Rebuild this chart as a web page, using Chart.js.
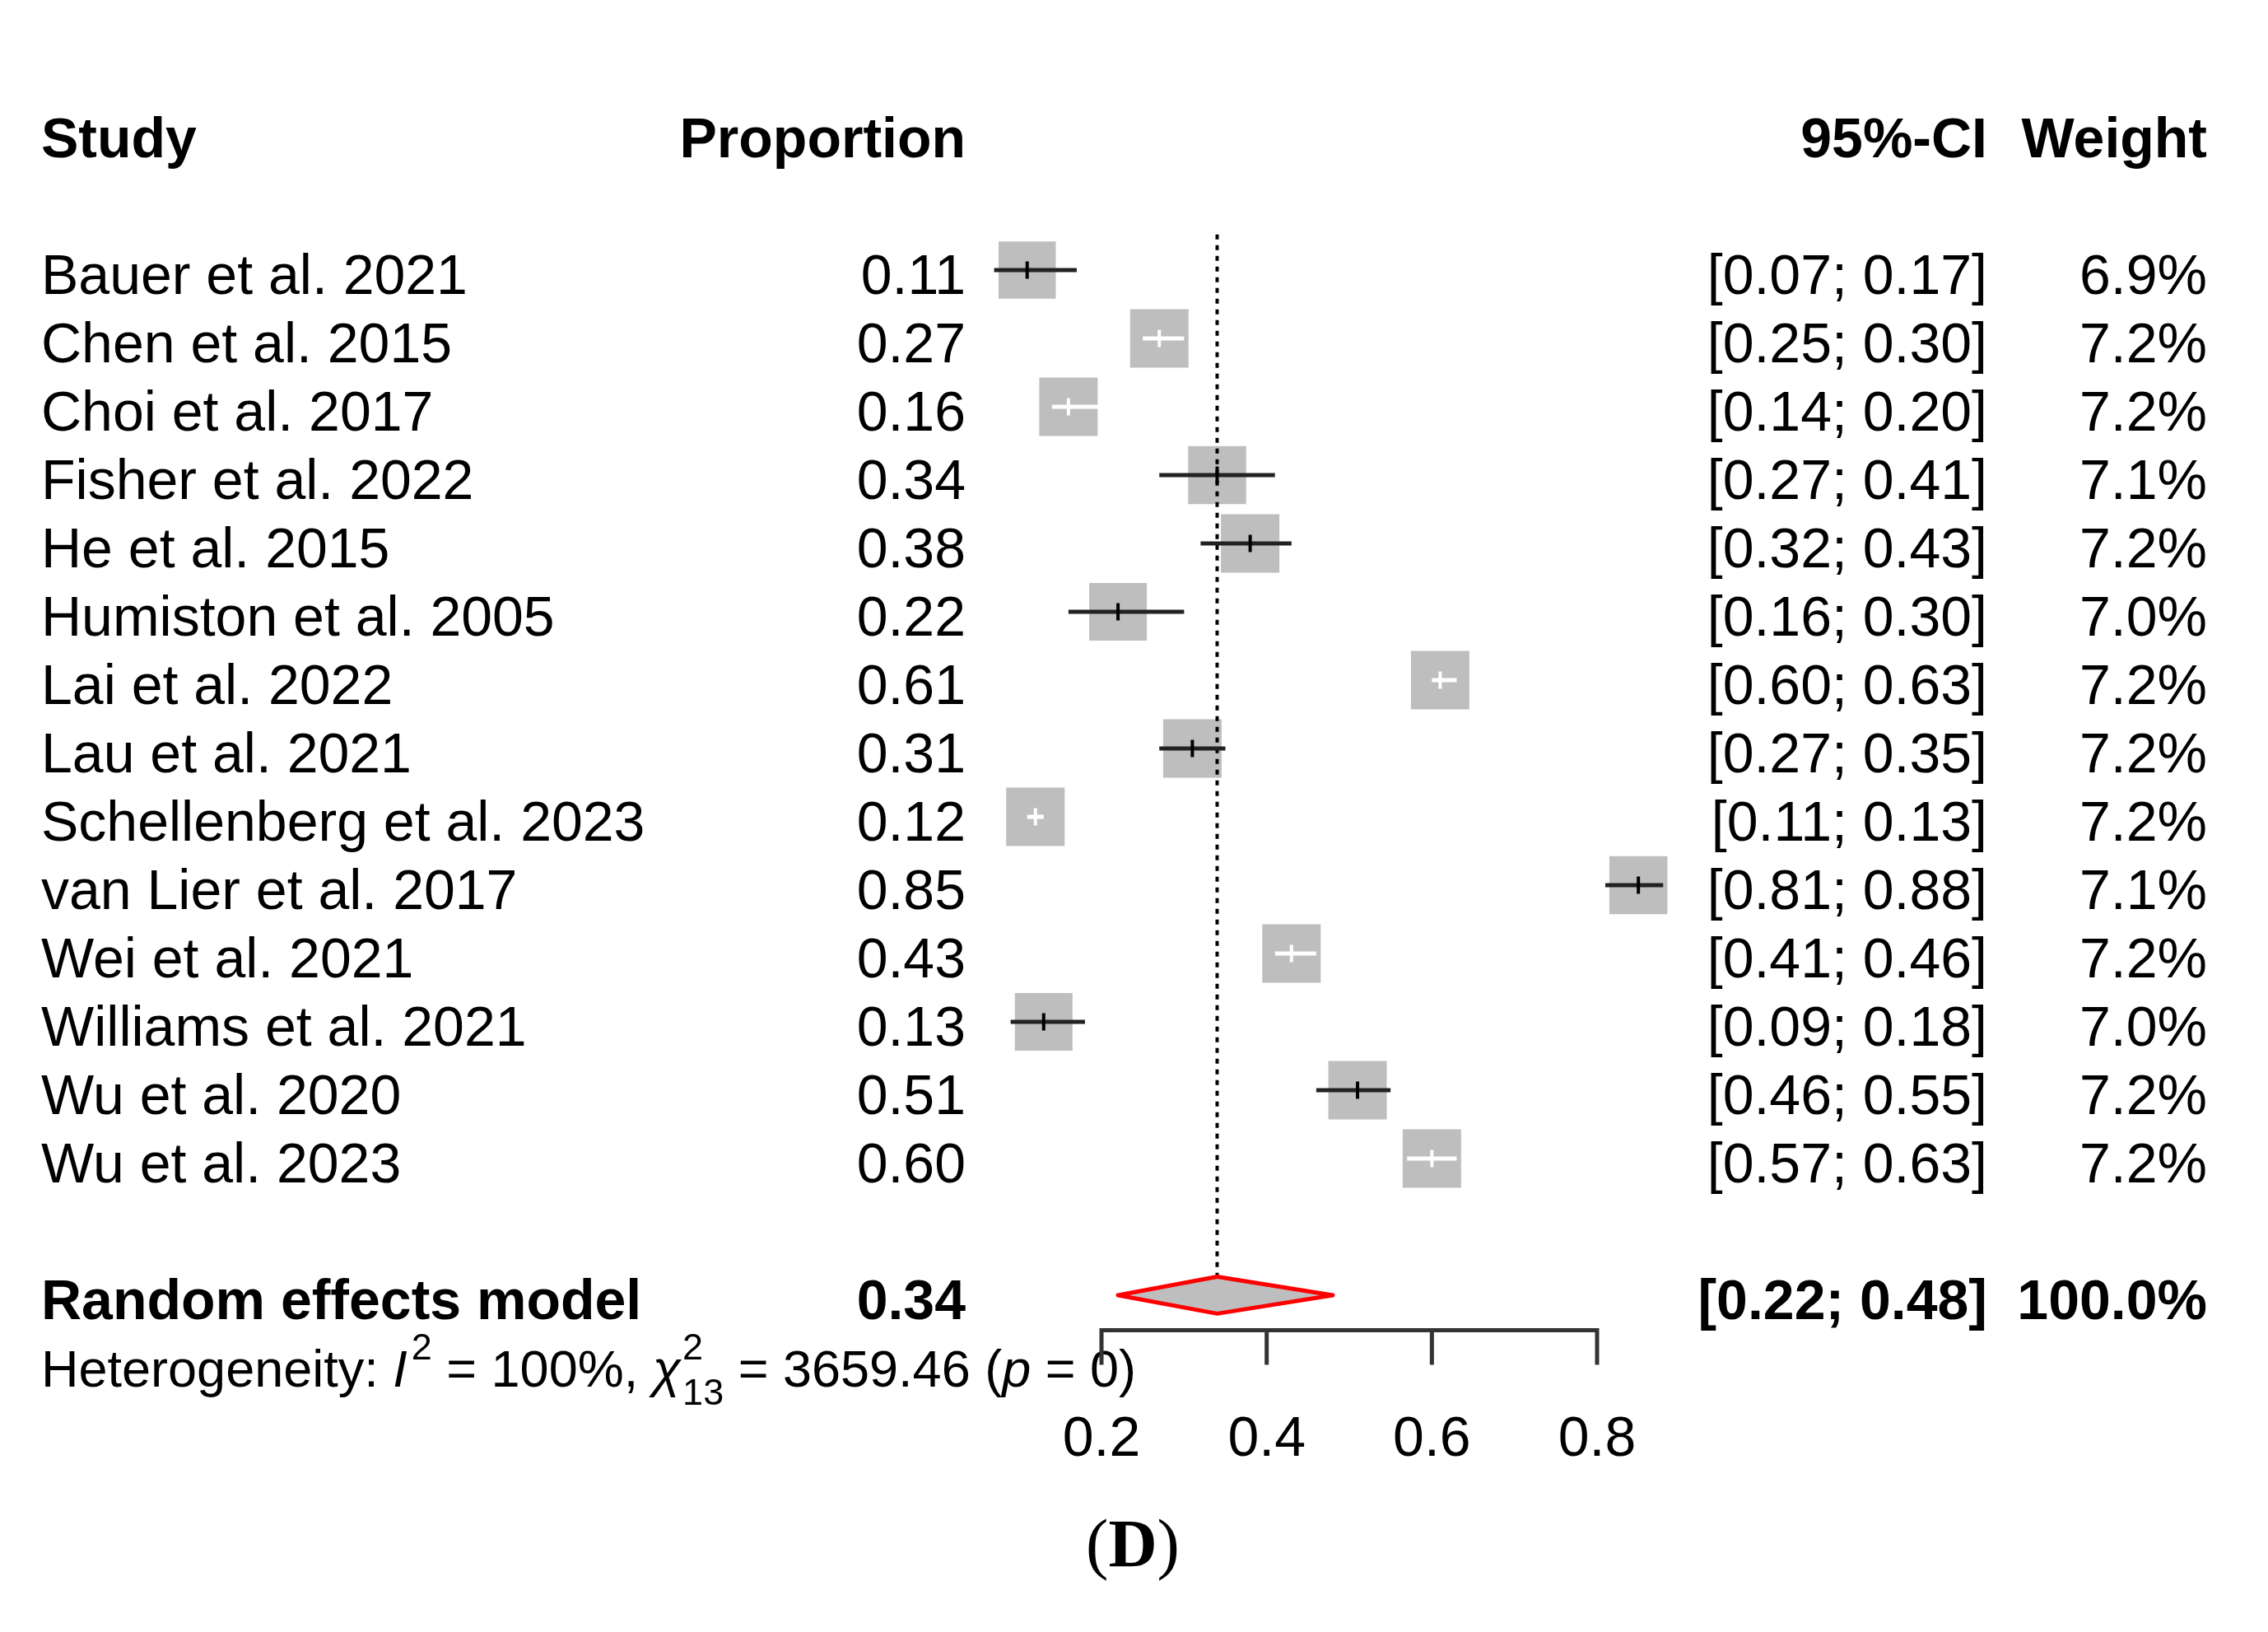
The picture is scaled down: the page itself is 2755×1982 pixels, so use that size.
<!DOCTYPE html>
<html><head><meta charset="utf-8">
<script src="https://cdn.jsdelivr.net/npm/chart.js@4/dist/chart.umd.min.js"></script>
<style>html,body{margin:0;padding:0;background:#fff;overflow:hidden}canvas{display:block}</style>
</head><body>
<canvas id="c" width="2755" height="1982" style="width:2755px;height:1982px"></canvas>
<script>
// ---------- data ----------
const studies = ["Bauer et al. 2021","Chen et al. 2015","Choi et al. 2017","Fisher et al. 2022","He et al. 2015","Humiston et al. 2005","Lai et al. 2022","Lau et al. 2021","Schellenberg et al. 2023","van Lier et al. 2017","Wei et al. 2021","Williams et al. 2021","Wu et al. 2020","Wu et al. 2023"];
const proportions = [0.11,0.27,0.16,0.34,0.38,0.22,0.61,0.31,0.12,0.85,0.43,0.13,0.51,0.60];
const ciLower = [0.07,0.25,0.14,0.27,0.32,0.16,0.60,0.27,0.11,0.81,0.41,0.09,0.46,0.57];
const ciUpper = [0.17,0.30,0.20,0.41,0.43,0.30,0.63,0.35,0.13,0.88,0.46,0.18,0.55,0.63];
const weights = [6.9,7.2,7.2,7.1,7.2,7.0,7.2,7.2,7.2,7.1,7.2,7.0,7.2,7.2];
const pooledLabel = "Random effects model";
const pooledEstimate = [0.34];
const pooledCI = [0.22, 0.48];
const pooledWeight = [100.0];
const heterogeneity = {I2: "100%", chi2: "3659.46", df: "13", p: "0"};
const headers = ["Study","Proportion","95%-CI","Weight"];
const xTicks = [0.2,0.4,0.6,0.8];
const xTickLabels = ["0.2","0.4","0.6","0.8"];
const caption = "D";

// ---------- layout constants ----------
const W = 2755, H = 1982;
const X_MIN = -1.1336, X_MAX = 1.6123;      // maps to canvas 0..W
const Y_MIN = -3.952, Y_MAX = 19.928;       // row units, reversed
const PX_PER_UNIT = W / (X_MAX - X_MIN);
const ROW_HEADER = -2, ROW_POOLED = 15, ROW_HET = 16, ROW_AXIS = 15.512, ROW_TICKLAB = 17, ROW_REFTOP = -0.52;
const TICK_LEN = 42;
const DIAMOND_HALF = 0.27;
const BOX_SIDE = 71, REF_WEIGHT = 7.2;
const FS = 68, FS_HET = 63;
const TEXT_DY = 5;
const SANS = '"Liberation Sans", Arial, Helvetica, sans-serif';
const SERIF = '"Liberation Serif", "Times New Roman", serif';
const COL_STUDY = 50, COL_PROP = 1173, COL_CI = 2414, COL_W = 2681;
const CAPTION_X = 1376, CAPTION_BASE = 1902, CAPTION_FS = 82;

const fmt2 = v => v.toFixed(2);
const boxSides = weights.map(w => BOX_SIDE * Math.sqrt(w / REF_WEIGHT));
// CI drawn in white when it fits inside its square
const inside = studies.map((s, i) => (ciUpper[i] - ciLower[i]) * PX_PER_UNIT + 2 < boxSides[i]);

// ---------- datasets ----------
const GRAY = '#bebebe', DARK = '#222222';
const datasets = [];
datasets.push({
  label: 'boxes', order: 10,
  data: studies.map((s, i) => ({x: proportions[i], y: i})),
  pointStyle: 'rect', pointRadius: boxSides.map(s => s / Math.SQRT2), pointHoverRadius: boxSides.map(s => s / Math.SQRT2),
  backgroundColor: GRAY, borderWidth: 0, showLine: false
});
studies.forEach((s, i) => {
  datasets.push({
    label: 'ci' + i, order: 5,
    data: [{x: ciLower[i], y: i}, {x: ciUpper[i], y: i}],
    showLine: true, borderColor: inside[i] ? '#ffffff' : DARK, borderWidth: 5,
    pointRadius: 0, fill: false
  });
});
datasets.push({
  label: 'est', order: 2,
  data: studies.map((s, i) => ({x: proportions[i], y: i})),
  pointStyle: 'line', rotation: 90, pointRadius: 10.5, borderWidth: 4,
  borderColor: inside.map(b => b ? '#ffffff' : '#000000'), showLine: false
});
datasets.push({
  label: 'ref', order: 8,
  data: [{x: pooledEstimate[0], y: ROW_REFTOP}, {x: pooledEstimate[0], y: ROW_POOLED - DIAMOND_HALF}],
  showLine: true, borderColor: '#000', borderWidth: 4, borderDash: [6, 7], pointRadius: 0, fill: false
});
datasets.push({
  label: 'diamond', order: 6,
  data: [
    {x: pooledCI[0], y: ROW_POOLED}, {x: pooledEstimate[0], y: ROW_POOLED - DIAMOND_HALF},
    {x: pooledCI[1], y: ROW_POOLED}, {x: pooledEstimate[0], y: ROW_POOLED + DIAMOND_HALF},
    {x: pooledCI[0], y: ROW_POOLED}
  ],
  showLine: true, fill: 'shape', backgroundColor: GRAY, borderColor: '#ff0000', borderWidth: 5,
  borderJoinStyle: 'round', borderCapStyle: 'round',
  pointRadius: 0, tension: 0
});

// ---------- text & axis plugin ----------
function txt(ctx, s, x, yRow, align, font, fs) {
  ctx.font = font;
  ctx.textAlign = align;
  ctx.textBaseline = 'alphabetic';
  ctx.fillText(s, x, yRow + TEXT_DY + 0.358 * fs);
}
const forestText = {
  id: 'forestText',
  afterDraw(chart) {
    const ctx = chart.ctx, xs = chart.scales.x, ys = chart.scales.y;
    ctx.save();
    ctx.fillStyle = '#000';
    const nf = FS + 'px ' + SANS, bf = 'bold ' + FS + 'px ' + SANS;
    // headers
    const yh = ys.getPixelForValue(ROW_HEADER);
    txt(ctx, headers[0], COL_STUDY, yh, 'left', bf, FS);
    txt(ctx, headers[1], COL_PROP, yh, 'right', bf, FS);
    txt(ctx, headers[2], COL_CI, yh, 'right', bf, FS);
    txt(ctx, headers[3], COL_W, yh, 'right', bf, FS);
    // rows
    studies.forEach((s, i) => {
      const y = ys.getPixelForValue(i);
      txt(ctx, s, COL_STUDY, y, 'left', nf, FS);
      txt(ctx, fmt2(proportions[i]), COL_PROP, y, 'right', nf, FS);
      txt(ctx, '[' + fmt2(ciLower[i]) + '; ' + fmt2(ciUpper[i]) + ']', COL_CI, y, 'right', nf, FS);
      txt(ctx, weights[i].toFixed(1) + '%', COL_W, y, 'right', nf, FS);
    });
    // pooled
    const yp = ys.getPixelForValue(ROW_POOLED);
    txt(ctx, pooledLabel, COL_STUDY, yp, 'left', bf, FS);
    txt(ctx, fmt2(pooledEstimate[0]), COL_PROP, yp, 'right', bf, FS);
    txt(ctx, '[' + fmt2(pooledCI[0]) + '; ' + fmt2(pooledCI[1]) + ']', COL_CI, yp, 'right', bf, FS);
    txt(ctx, pooledWeight[0].toFixed(1) + '%', COL_W, yp, 'right', bf, FS);
    // heterogeneity rich text
    const yhet = ys.getPixelForValue(ROW_HET) + TEXT_DY + 0.358 * FS_HET;
    const hn = FS_HET + 'px ' + SANS, hi = 'italic ' + FS_HET + 'px ' + SANS;
    const ss = Math.round(FS_HET * 0.72), sn = ss + 'px ' + SANS;
    ctx.textAlign = 'left'; ctx.textBaseline = 'alphabetic';
    let x = COL_STUDY;
    const put = (s, font, dy) => { ctx.font = font; ctx.fillText(s, x, yhet + (dy || 0)); x += ctx.measureText(s).width; };
    put('Heterogeneity: ', hn);
    put('I', hi);
    x += 5;
    put('2', sn, -FS_HET * 0.52);
    put(' = ' + heterogeneity.I2 + ', ', hn);
    put('\u03C7', hi);
    ctx.font = sn;
    const x0 = x + 2;
    ctx.fillText('2', x0, yhet - FS_HET * 0.52);
    ctx.fillText(heterogeneity.df, x0, yhet + FS_HET * 0.36);
    x = x0 + Math.max(ctx.measureText('2').width, ctx.measureText(heterogeneity.df).width);
    put(' = ' + heterogeneity.chi2 + ' (', hn);
    put('p', hi);
    put(' = ' + heterogeneity.p + ')', hn);
    // axis
    const ya = ys.getPixelForValue(ROW_AXIS);
    ctx.strokeStyle = '#333'; ctx.lineWidth = 5; ctx.lineCap = 'butt';
    ctx.beginPath();
    ctx.moveTo(xs.getPixelForValue(xTicks[0]) - 2.5, ya);
    ctx.lineTo(xs.getPixelForValue(xTicks[xTicks.length - 1]) + 2.5, ya);
    xTicks.forEach(t => { const px = xs.getPixelForValue(t); ctx.moveTo(px, ya); ctx.lineTo(px, ya + TICK_LEN); });
    ctx.stroke();
    const yl = ys.getPixelForValue(ROW_TICKLAB);
    xTicks.forEach((t, k) => txt(ctx, xTickLabels[k], xs.getPixelForValue(t), yl, 'center', nf, FS));
    // caption (D)
    const pn = CAPTION_FS + 'px ' + SERIF, pb = 'bold ' + CAPTION_FS + 'px ' + SERIF;
    ctx.textAlign = 'left'; ctx.textBaseline = 'alphabetic';
    ctx.font = pn; const wp1 = ctx.measureText('(').width, wp2 = ctx.measureText(')').width;
    ctx.font = pb; const wd = ctx.measureText(caption).width;
    let cx = CAPTION_X - (wp1 + wd + wp2) / 2;
    ctx.font = pn; ctx.fillText('(', cx, CAPTION_BASE); cx += wp1;
    ctx.font = pb; ctx.fillText(caption, cx, CAPTION_BASE); cx += wd;
    ctx.font = pn; ctx.fillText(')', cx, CAPTION_BASE);
    ctx.restore();
  }
};

new Chart(document.getElementById('c'), {
  type: 'scatter',
  data: {datasets},
  options: {
    responsive: false, devicePixelRatio: 1, animation: false,
    layout: {padding: 0, autoPadding: false},
    plugins: {legend: {display: false}, tooltip: {enabled: false}, title: {display: false}},
    scales: {
      x: {type: 'linear', display: false, min: X_MIN, max: X_MAX},
      y: {type: 'linear', display: false, min: Y_MIN, max: Y_MAX, reverse: true}
    },
    elements: {line: {tension: 0}}
  },
  plugins: [forestText]
});
</script>
</body></html>
